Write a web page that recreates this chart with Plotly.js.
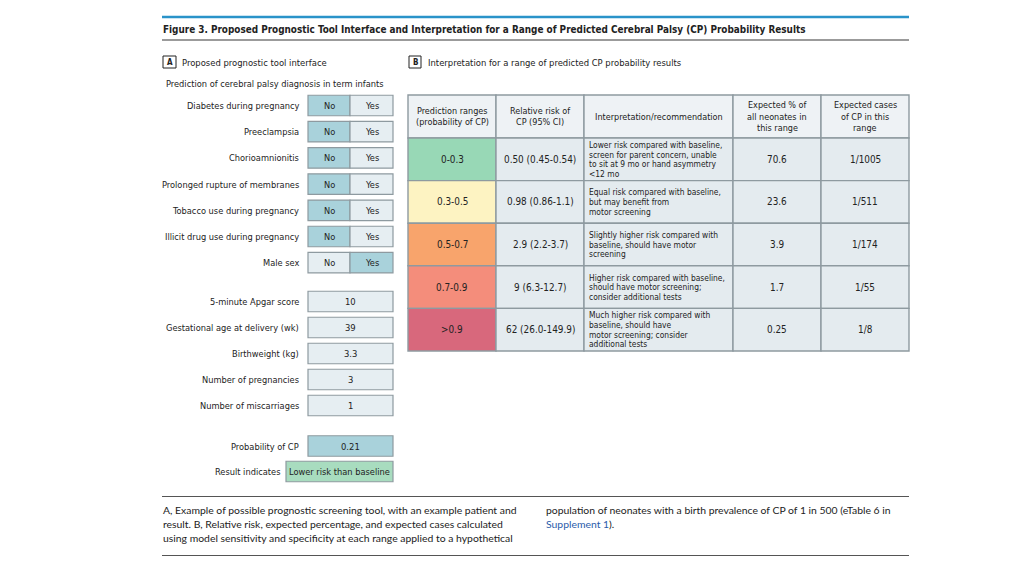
<!DOCTYPE html>
<html>
<head>
<meta charset="utf-8">
<script src="https://cdn.plot.ly/plotly-3.0.1.min.js"></script>
<style>html,body{margin:0;padding:0;background:#fff;}#chart{width:1024px;height:576px;}</style>
</head>
<body>
<div id="chart"></div>
<script>
// ---------------- DATA ----------------
const figureTitle = 'Figure 3. Proposed Prognostic Tool Interface and Interpretation for a Range of Predicted Cerebral Palsy (CP) Probability Results';
const panelATitle = 'Proposed prognostic tool interface';
const panelBTitle = 'Interpretation for a range of predicted CP probability results';
const toolSubtitle = 'Prediction of cerebral palsy diagnosis in term infants';

const binaryFactors = ['Diabetes during pregnancy', 'Preeclampsia', 'Chorioamnionitis',
  'Prolonged rupture of membranes', 'Tobacco use during pregnancy',
  'Illicit drug use during pregnancy', 'Male sex'];
const binaryOptions = ['No', 'Yes'];
const binarySelected = ['No', 'No', 'No', 'No', 'No', 'No', 'Yes'];

const numericFactors = ['5-minute Apgar score', 'Gestational age at delivery (wk)', 'Birthweight (kg)',
  'Number of pregnancies', 'Number of miscarriages'];
const numericValues = ['10', '39', '3.3', '3', '1'];

const probabilityLabel = 'Probability of CP';
const probabilityOfCP = 0.21;
const resultLabel = 'Result indicates';
const resultText = 'Lower risk than baseline';

const tableHeaders = ['Prediction ranges<br>(probability of CP)', 'Relative risk of<br>CP (95% CI)',
  'Interpretation/recommendation', 'Expected % of<br>all neonates in<br>this range',
  'Expected cases<br>of CP in this<br>range'];
const predictionRanges = ['0-0.3', '0.3-0.5', '0.5-0.7', '0.7-0.9', '>0.9'];
const relativeRisk = ['0.50 (0.45-0.54)', '0.98 (0.86-1.1)', '2.9 (2.2-3.7)', '9 (6.3-12.7)', '62 (26.0-149.9)'];
const interpretation = [
  'Lower risk compared with baseline,<br>screen for parent concern, unable<br>to sit at 9 mo or hand asymmetry<br>&lt;12 mo',
  'Equal risk compared with baseline,<br>but may benefit from<br>motor screening',
  'Slightly higher risk compared with<br>baseline, should have motor<br>screening',
  'Higher risk compared with baseline,<br>should have motor screening;<br>consider additional tests',
  'Much higher risk compared with<br>baseline, should have<br>motor screening; consider<br>additional tests'];
const expectedPercent = ['70.6', '23.6', '3.9', '1.7', '0.25'];
const expectedCases = ['1/1005', '1/511', '1/174', '1/55', '1/8'];

const captionLeft = ['A, Example of possible prognostic screening tool, with an example patient and',
  'result. B, Relative risk, expected percentage, and expected cases calculated',
  'using model sensitivity and specificity at each range applied to a hypothetical'];
const captionRight = ['population of neonates with a birth prevalence of CP of 1 in 500 (eTable 6 in',
  '<span style="color:#2a5caa">Supplement 1</span>).'];

// ---------------- STYLE ----------------
const rangeColors = ['#98d8b6', '#fdf3c2', '#f8a46c', '#f48d7b', '#d8687c'];
const FONT = '"Liberation Sans Narrow", "DejaVu Sans Condensed", sans-serif';
const CAPFONT = 'Lato, "Open Sans", sans-serif';
const TXT = '#222';
const BORDER = '#8e9aa0';
const SEL = '#a9d2db';
const UNSEL = '#e6eef2';
const CELL = '#e4ebef';
const HEAD = '#eef2f5';

const shapes = [];
const ann = [];

function rect(x0, y0, x1, y1, fill, lc, lw) {
  shapes.push({type: 'rect', xref: 'x', yref: 'y', x0, y0, x1, y1,
    fillcolor: fill, line: {color: lc || BORDER, width: lw == null ? 1.2 : lw}, layer: 'below'});
}
function hline(x0, x1, y, color, w) {
  shapes.push({type: 'line', xref: 'x', yref: 'y', x0, x1, y0: y, y1: y, line: {color, width: w}});
}
function text(x, y, t, size, anchor, opts) {
  opts = opts || {};
  ann.push({xref: 'x', yref: 'y', x, y, text: t, showarrow: false, xanchor: anchor || 'center',
    yanchor: 'middle', align: anchor === 'right' ? 'right' : (anchor === 'left' ? 'left' : 'center'),
    font: {family: opts.family || FONT, size, color: opts.color || TXT, weight: opts.weight || 400},
    borderpad: 0});
}
function multiline(x, yc, t, size, anchor, spacing, opts) {
  const lines = t.split('<br>');
  const n = lines.length;
  lines.forEach((ln, i) => text(x, yc + (i - (n - 1) / 2) * spacing, ln, size, anchor, opts));
}

// ---------- Header ----------
hline(162, 909, 17, '#2a93c9', 2.5);
text(162, 29, figureTitle, 9.9, 'left', {weight: 700});
hline(162, 909, 40, '#7a7a7a', 1.6);

// panel labels
rect(163, 56, 176, 68, '#fff', '#222', 1);
text(169.5, 62, 'A', 8, 'center', {weight: 700});
text(181, 62, panelATitle, 9.4, 'left');
rect(409, 56, 421, 68, '#fff', '#222', 1);
text(415, 62, 'B', 8, 'center', {weight: 700});
text(427, 62, panelBTitle, 9.4, 'left');
text(165, 83, toolSubtitle, 9.2, 'left');

// ---------- Panel A ----------
const labelX = 300, boxL = 308, boxM = 350, boxR = 393;
const binTop = 105.5, binStep = 26.2, boxH = 20.5;
binaryFactors.forEach((f, i) => {
  const yc = binTop + i * binStep;
  text(labelX, yc, f, 9.2, 'right');
  binaryOptions.forEach((opt, j) => {
    const x0 = j === 0 ? boxL : boxM, x1 = j === 0 ? boxM : boxR;
    rect(x0, yc - boxH / 2, x1, yc + boxH / 2, binarySelected[i] === opt ? SEL : UNSEL);
    text((x0 + x1) / 2, yc, opt, 9.2, 'center');
  });
});

const numTop = 301.5, numStep = 26;
numericFactors.forEach((f, i) => {
  const yc = numTop + i * numStep;
  text(labelX, yc, f, 9.2, 'right');
  rect(boxL, yc - boxH / 2, boxR, yc + boxH / 2, UNSEL);
  text((boxL + boxR) / 2, yc, numericValues[i], 9.4, 'center');
});

const probY = 446;
text(labelX, probY, probabilityLabel, 9.2, 'right');
rect(boxL, probY - boxH / 2, boxR, probY + boxH / 2, SEL);
text((boxL + boxR) / 2, probY, String(probabilityOfCP), 9.4, 'center');

const resY = 471.5;
text(281, resY, resultLabel, 9.2, 'right');
rect(286, resY - boxH / 2, boxR, resY + boxH / 2, '#a8dcbf');
text((286 + boxR) / 2, resY, resultText, 9.2, 'center');

// ---------- Panel B table ----------
const colX = [408, 496, 584, 733, 821, 909];
const headTop = 95, headBot = 138, rowH = 42.6;
tableHeaders.forEach((h, c) => {
  rect(colX[c], headTop, colX[c + 1], headBot, HEAD, BORDER, 1.4);
  multiline((colX[c] + colX[c + 1]) / 2, (headTop + headBot) / 2, h, 9, 'center', 11.3);
});
predictionRanges.forEach((r, i) => {
  const y0 = headBot + i * rowH, y1 = y0 + rowH, yc = (y0 + y1) / 2;
  const cols = [r, relativeRisk[i], interpretation[i], expectedPercent[i], expectedCases[i]];
  cols.forEach((v, c) => {
    rect(colX[c], y0, colX[c + 1], y1, c === 0 ? rangeColors[i] : CELL, BORDER, 1.4);
    if (c === 2) {
      multiline(colX[c] + 4, yc, v, 8.4, 'left', 9.6);
    } else {
      text((colX[c] + colX[c + 1]) / 2, yc, v, 9.9, 'center');
    }
  });
});

// ---------- Caption ----------
hline(162, 909, 496.5, '#555', 1.2);
captionLeft.forEach((t, i) => text(162, 509.5 + i * 14, t, 10.4, 'left', {family: CAPFONT}));
captionRight.forEach((t, i) => text(545, 509.5 + i * 14, t, 10.4, 'left', {family: CAPFONT}));
hline(162, 909, 555.5, '#555', 1.2);

const layout = {
  width: 1024, height: 576,
  margin: {l: 0, r: 0, t: 0, b: 0},
  paper_bgcolor: '#fff', plot_bgcolor: '#fff',
  showlegend: false,
  xaxis: {range: [0, 1024], visible: false, fixedrange: true},
  yaxis: {range: [576, 0], visible: false, fixedrange: true},
  shapes, annotations: ann
};
Plotly.newPlot('chart', [{x: [], y: [], type: 'scatter', hoverinfo: 'skip'}], layout,
  {displayModeBar: false, staticPlot: true});
</script>
</body>
</html>
